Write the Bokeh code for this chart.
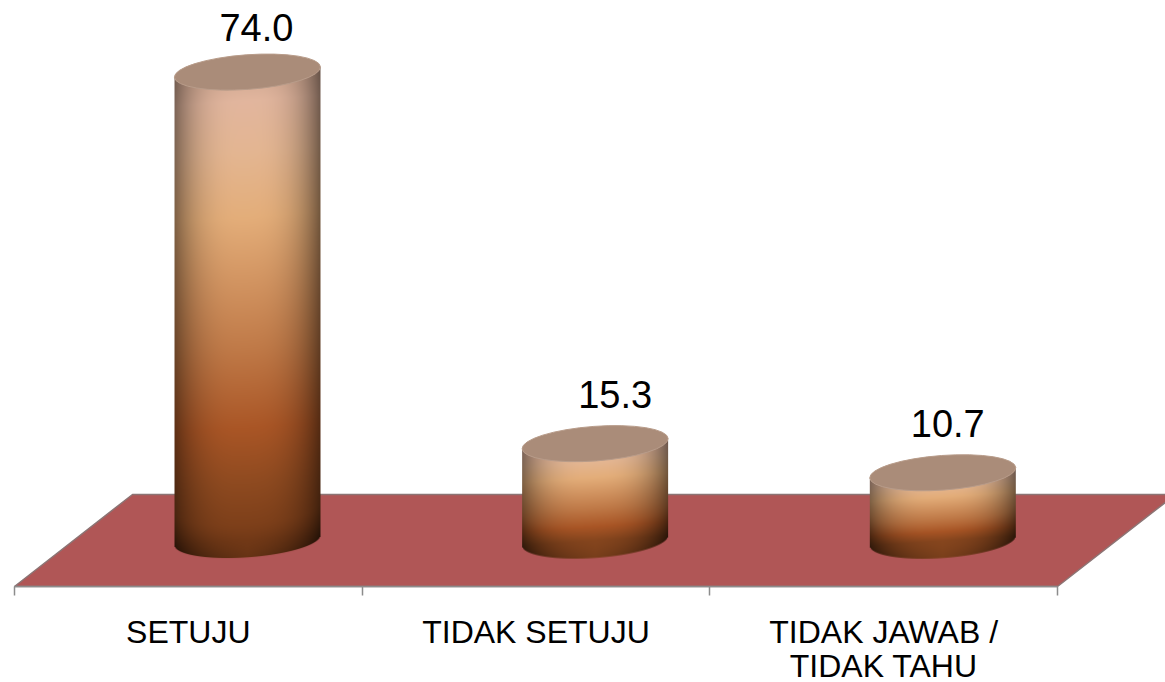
import numpy as np
from bokeh.plotting import figure
from bokeh.models import ColumnDataSource, FixedTicker
from bokeh.embed import file_html
from bokeh.resources import INLINE
from bokeh.core.properties import value

categories = ["SETUJU", "TIDAK SETUJU", "TIDAK JAWAB /\nTIDAK TAHU"]
values = [74.0, 15.3, 10.7]
value_labels = ["74.0", "15.3", "10.7"]

# Layout constants (reference pixels)
FIG_W, FIG_H = 1165, 682
LEFT_PX, BASE_PX = 14.0, 540.0
PX_PER_CAT = 347.67
PX_PER_UNIT = 6.33
FRONT_FLOOR_PX = 46.0
BACK_FLOOR_PX = 46.0
DEPTH_PX = 118.0
BAR_SHIFT = 0.67
A, K, TILT = 73.0, 17.3, 5.0

x0 = -LEFT_PX / PX_PER_CAT
x1 = x0 + FIG_W / PX_PER_CAT
y1 = BASE_PX / PX_PER_UNIT
y0 = y1 - FIG_H / PX_PER_UNIT

p = figure(width=FIG_W, height=FIG_H, output_backend="svg", toolbar_location=None,
           x_range=(x0, x1), y_range=(y0, y1),
           min_border_left=0, min_border_right=0, min_border_top=0, min_border_bottom=0)
p.outline_line_color = None
p.background_fill_color = "white"
p.grid.visible = False
p.yaxis.visible = False

# Floor
d = DEPTH_PX / PX_PER_CAT
n = len(categories)
fy = -FRONT_FLOOR_PX / PX_PER_UNIT
by = BACK_FLOOR_PX / PX_PER_UNIT
p.patch([0, n, n + d, d], [fy, fy, by, by], fill_color="#B05656", line_color="#8C7474", line_width=1.5)

# Axis
ax = p.xaxis[0]
ax.fixed_location = fy
ax.ticker = FixedTicker(ticks=[i + 0.5 for i in range(n)], minor_ticks=list(range(n + 1)))
ax.major_label_overrides = {i + 0.5: c for i, c in enumerate(categories)}
ax.bounds = (0, n)
ax.axis_line_color = "#8C8C8C"
ax.axis_line_width = 1.5
ax.major_tick_line_color = None
ax.major_tick_out = 0
ax.major_tick_in = 0
ax.minor_tick_line_color = "#8C8C8C"
ax.minor_tick_line_width = 1.5
ax.minor_tick_out = 9
ax.minor_tick_in = 0
ax.major_label_standoff = 18
ax.major_label_text_font = "Liberation Sans"
ax.major_label_text_font_size = "32px"
ax.major_label_text_color = "black"
ax.major_label_text_line_height = 0.97
ax.major_label_orientation = "horizontal"

# Cylinder bodies
stops_t = [0.0, 0.06, 0.17, 0.31, 0.59, 0.76, 0.88, 1.0]
stops_c = np.array([[0xD0, 0xA8, 0x92], [0xE2, 0xB6, 0x9E], [0xE4, 0xB6, 0x92], [0xE4, 0xAE, 0x7A],
                    [0xC0, 0x7A, 0x48], [0xAA, 0x56, 0x26], [0x8E, 0x4A, 0x20], [0x78, 0x3C, 0x18]], float)


def body(val):
    h_px = int(round(val * PX_PER_UNIT))
    pad = int(K + TILT + 4)
    H = h_px + 2 * pad
    W = int(2 * A) + 4
    yy, xx = np.mgrid[0:H, 0:W]
    u = (xx + 0.5 - W / 2.0)
    v = yy + 0.5 - pad
    r = np.clip(u / A, -1, 1)
    lower = -TILT / A * u + K * np.sqrt(1 - r ** 2) + h_px
    upper = -TILT / A * u
    t = np.clip((v - upper) / max(h_px, 1), 0, 1)
    # shorter cylinders keep their warm tone closer to the base
    t_col = t * (1 - 0.14 * (1 - val / max(values)))
    col = np.stack([np.interp(t_col, stops_t, stops_c[:, k]) for k in range(3)], axis=-1)
    shade = (1 - 0.48 * np.abs(r + 0.02) ** 3)[..., None]
    # darkening towards the base rim
    rim = np.clip((v - (lower - 34)) / 34, 0, 1)
    col = col * shade * (1 - 0.40 * (rim[..., None] ** 1.5) * (0.35 + 0.65 * np.abs(r[..., None])))
    a = np.clip(A - np.abs(u) + 0.5, 0, 1) * np.clip(lower - v + 0.5, 0, 1) * np.clip(v - upper + 0.5, 0, 1)
    out = np.zeros((H, W), dtype=np.uint32)
    rgba = out.view(np.uint8).reshape(H, W, 4)
    rgba[..., :3] = np.clip(col, 0, 255).astype(np.uint8)
    rgba[..., 3] = (a * 255).astype(np.uint8)
    return out[::-1], W, H, pad


centers = [i + BAR_SHIFT for i in range(n)]
for cx, val in zip(centers, values):
    img, W, H, pad = body(val)
    p.image_rgba(image=[img], x=[cx - W / 2.0 / PX_PER_CAT], y=[val - (H - pad) / PX_PER_UNIT],
                 dw=[W / PX_PER_CAT], dh=[H / PX_PER_UNIT])

# Cylinder tops
tops = ColumnDataSource(dict(x=centers, y=values))
p.ellipse(x="x", y="y", width=2 * 73.2, height=2 * 17.3, angle=0.0724,
          width_units="screen", height_units="screen", source=tops,
          fill_color="#AA8C79", line_color="#B89C8A", line_width=1)

# Value labels
lab = ColumnDataSource(dict(x=centers, y=values, text=value_labels,
                            dx=[9, 20, 5], dy=[-45, -49, -49]))
p.text(x="x", y="y", text="text", x_offset="dx", y_offset="dy", source=lab,
       text_font=value("Liberation Sans"), text_font_size="38px", text_color="black",
       text_align="center", text_baseline="middle")

open("out.html", "w").write(file_html(p, INLINE))
